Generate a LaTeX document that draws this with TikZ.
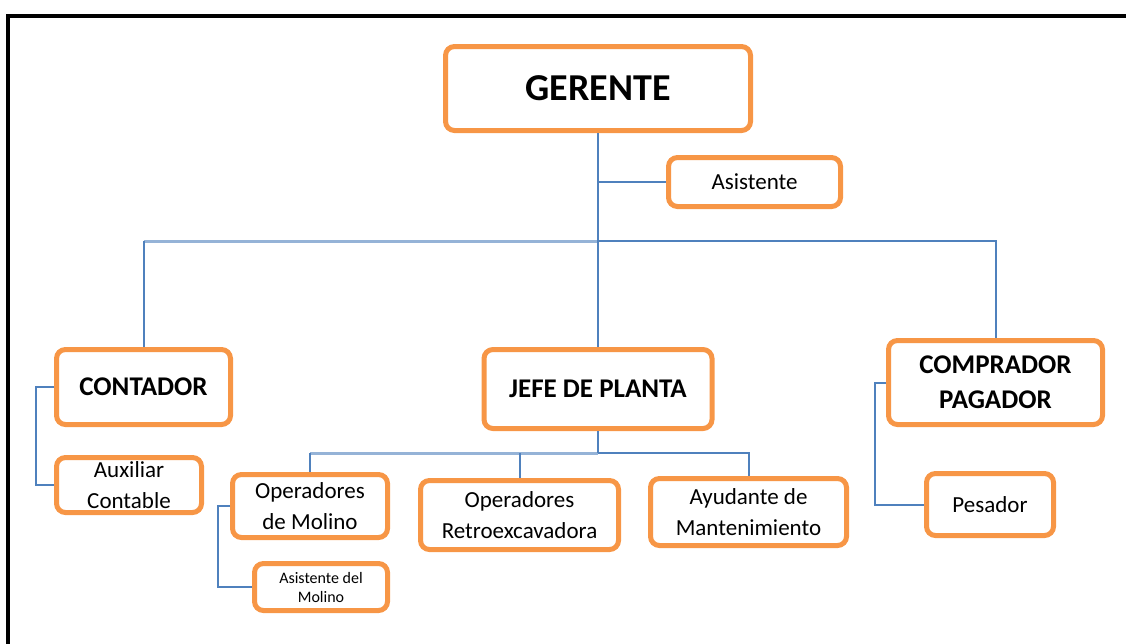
\documentclass[tikz,border=0pt]{standalone}
\usepackage{fontspec}
\setmainfont{Carlito}
\definecolor{boxor}{HTML}{F79646}
\definecolor{linkblue}{HTML}{4F81BD}
\definecolor{linklight}{HTML}{95B3D7}
\tikzset{
  orgbox/.style={draw=boxor, line width=5pt, rounded corners=9pt, fill=white,
    align=center, inner sep=2pt, text=black},
  bigtxt/.style={font=\fontsize{38}{44}\selectfont\bfseries},
  midtxt/.style={font=\fontsize{27}{35}\selectfont\bfseries},
  smalltxt/.style={font=\fontsize{23}{31}\selectfont},
  tinytxt/.style={font=\fontsize{16}{19}\selectfont},
  conn/.style={draw=linkblue, line width=2pt},
  connlight/.style={draw=linklight, line width=3pt},
}
\begin{document}
\begin{tikzpicture}[x=1pt,y=-1pt]
\useasboundingbox (0,0) rectangle (1126,643);
% frame
\draw[line width=4pt, line cap=rect] (8,645) -- (8,15.5) -- (1130,15.5);

% nodes
\node[orgbox,bigtxt, minimum width=305, minimum height=84] (ger) at (598,88.5) {GERENTE};
\node[orgbox,smalltxt, minimum width=172, minimum height=49] (asis) at (754.5,182) {Asistente};
\node[orgbox,midtxt, minimum width=174, minimum height=75] (cont) at (143.5,387) {CONTADOR};
\node[orgbox,midtxt, minimum width=228, minimum height=79] (jefe) at (598,389) {JEFE DE PLANTA};
\node[orgbox,midtxt, minimum width=214, minimum height=84] (comp) at (995.5,382.5) {COMPRADOR\\PAGADOR};
\node[orgbox,smalltxt, minimum width=145, minimum height=55] (aux) at (129,485) {Auxiliar\\Contable};
\node[orgbox,smalltxt, minimum width=155, minimum height=63] (opm) at (310,506) {Operadores\\de Molino};
\node[orgbox,tinytxt, minimum width=133, minimum height=47] (asm) at (321,587) {Asistente del\\Molino};
\node[orgbox,smalltxt, minimum width=198, minimum height=69] (retro) at (519.5,515) {Operadores\\Retroexcavadora};
\node[orgbox,smalltxt, minimum width=196, minimum height=67] (ayu) at (748.5,512) {Ayudante de\\Mantenimiento};
\node[orgbox,smalltxt, minimum width=127, minimum height=62] (pes) at (990,504.5) {Pesador};

% buses
\coordinate (bus1) at (598,241);
\coordinate (bus2) at (598,453);

\draw[connlight] (cont.north |- bus1) -- (bus1);
\draw[conn] (ger.south) -- (jefe.north);
\draw[conn] (ger.south |- asis.west) -- (asis.west);
\draw[conn] (cont.north) -- (cont.north |- bus1);
\draw[conn] (bus1) -| (comp.north);

\draw[connlight] (opm.north |- bus2) -- (bus2);
\draw[conn] (jefe.south) -- (bus2);
\draw[conn] (opm.north) -- (opm.north |- bus2);
\draw[conn] (retro.north) -- (retro.north |- bus2);
\draw[conn] (bus2) -| (ayu.north);

\draw[conn] (cont.west) -- ++(-18,0) |- (aux.west);
\draw[conn] (opm.west) -- ++(-12,0) |- (asm.west);
\draw[conn] (comp.west) -- ++(-11,0) |- (pes.west);
\end{tikzpicture}
\end{document}
